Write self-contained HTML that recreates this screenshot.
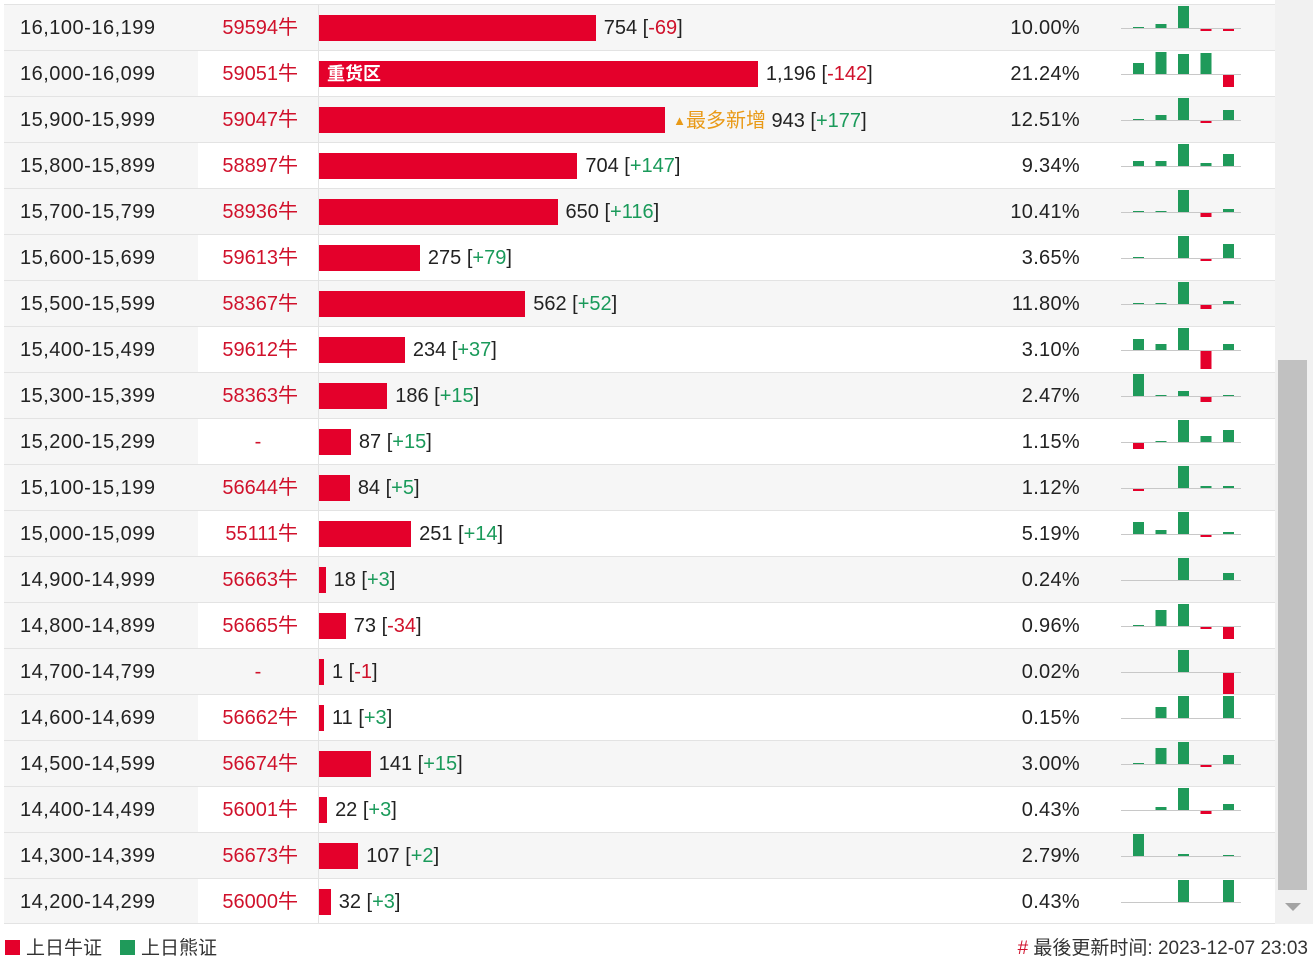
<!DOCTYPE html>
<html><head><meta charset="utf-8">
<style>
body{margin:0;width:1313px;height:963px;overflow:hidden;background:#fff;font-family:"Liberation Sans","Noto Sans CJK SC",sans-serif;position:relative}
.row{position:absolute;left:4px;width:1271px;height:46px;border-top:1px solid #e3e3e3;box-sizing:border-box}
.c{position:absolute;top:1px;height:45px;line-height:45px;font-size:20px;color:#222}
.red{color:#d0112b}.grn{color:#1a9a5a}
#scroll{position:absolute;left:1275px;top:0;width:38px;height:924px;background:#f1f1f1}
</style></head><body>
<div id="table"></div>
<div id="scroll">
<div style="position:absolute;left:3px;top:360px;width:29px;height:530px;background:#c1c1c1"></div>
<div style="position:absolute;left:10px;top:903px;width:0;height:0;border-left:8px solid transparent;border-right:8px solid transparent;border-top:8px solid #a3a3a3"></div>
</div>
<div style="position:absolute;left:4px;top:923px;width:1271px;border-top:1px solid #e3e3e3"></div>
<div style="position:absolute;left:5px;top:937px;font-size:19px;color:#333;line-height:24px"><span style="display:inline-block;width:15px;height:15px;background:#e4002b;vertical-align:-1px;margin-right:6px"></span>上日牛证</div>
<div style="position:absolute;left:120px;top:937px;font-size:19px;color:#333;line-height:24px"><span style="display:inline-block;width:15px;height:15px;background:#1f9a5a;vertical-align:-1px;margin-right:6px"></span>上日熊证</div>
<div style="position:absolute;right:5px;top:937px;font-size:19px;color:#333;line-height:24px"><span style="color:#d0112b">#</span> 最後更新时间: 2023-12-07 23:03</div>
<script>
const ranges=["16,100-16,199","16,000-16,099","15,900-15,999","15,800-15,899","15,700-15,799","15,600-15,699","15,500-15,599","15,400-15,499","15,300-15,399","15,200-15,299","15,100-15,199","15,000-15,099","14,900-14,999","14,800-14,899","14,700-14,799","14,600-14,699","14,500-14,599","14,400-14,499","14,300-14,399","14,200-14,299"];
const codes=["59594牛","59051牛","59047牛","58897牛","58936牛","59613牛","58367牛","59612牛","58363牛","-","56644牛","55111牛","56663牛","56665牛","-","56662牛","56674牛","56001牛","56673牛","56000牛"];
const values=[754,1196,943,704,650,275,562,234,186,87,84,251,18,73,1,11,141,22,107,32];
const changes=[-69,-142,177,147,116,79,52,37,15,15,5,14,3,-34,-1,3,15,3,2,3];
const pcts=["10.00%","21.24%","12.51%","9.34%","10.41%","3.65%","11.80%","3.10%","2.47%","1.15%","1.12%","5.19%","0.24%","0.96%","0.02%","0.15%","3.00%","0.43%","2.79%","0.43%"];
const sparks=[[1,4,22,-2,-2],[11,22,20,21,-12],[1,5,22,-2,10],[5,5,22,3,12],[1,1,22,-4,3],[1,0,22,-2,14],[1,1,22,-4,3],[11,6,22,-18,6],[22,1,5,-5,1],[-6,1,22,6,12],[-2,0,22,2,2],[12,4,22,-2,2],[0,0,22,0,7],[1,16,22,-2,-12],[0,0,22,0,-22],[0,11,22,0,22],[1,16,22,-2,9],[0,3,22,-3,6],[22,0,2,0,1],[0,0,22,0,22]];
const xScale=v=>Math.max(5,v*0.367);
const T=document.getElementById('table');
ranges.forEach((r,i)=>{
 const odd=i%2===0;
 const row=document.createElement('div');
 
 
 row.className='row';row.style.top=(4+i*46)+'px';
 row.style.background=odd?'#f6f6f6':'#fff';
 let h='';
 h+=`<div class="c" style="left:0;width:194px;background:#f6f6f6;padding-left:16px;box-sizing:border-box;letter-spacing:0.5px;top:0;padding-top:1px;height:45px">${r}</div>`;
 h+=`<div class="c red" style="left:194px;width:120px;text-align:${codes[i]=='-'?'center':'right'};padding-right:${codes[i]=='-'?0:20}px;box-sizing:border-box;">${codes[i]}</div>`;
 h+=`<div style="position:absolute;left:314px;top:0;height:45px;border-left:1px solid #e3e3e3"></div>`;
 const w=xScale(values[i]);
 h+=`<div style="position:absolute;left:315px;top:10px;width:${w}px;height:26px;background:#e4002b;color:#fff;font-weight:bold;font-size:18px;line-height:26px;padding-left:${i==1?8:0}px;box-sizing:border-box;white-space:nowrap;overflow:hidden">${i==1?'重货区':''}</div>`;
 const ch=changes[i];
 const cc=ch<0?'red':'grn';
 const tag=i==2?'<span style="color:#e99a17"><span style="font-size:13px;vertical-align:2px">▲</span>最多新增</span> ':'';
 h+=`<div class="c" style="left:${315+w+8}px;white-space:nowrap">${tag}${values[i].toLocaleString('en-US')} [<span class="${cc}">${ch>0?'+':''}${ch}</span>]</div>`;
 h+=`<div class="c" style="left:960px;width:116px;text-align:right;letter-spacing:0.3px">${pcts[i]}</div>`;
 let s=`<svg style="position:absolute;left:1113px;top:0;overflow:visible" width="130" height="46"><line x1="4" y1="23.5" x2="124" y2="23.5" stroke="#c8c8c8" stroke-width="1"/>`;
 sparks[i].forEach((v,j)=>{
  const x=16+j*22.5;
  if(v>0)s+=`<rect x="${x}" y="${23-v}" width="11" height="${v}" fill="#1f9a5a"/>`;
  else if(v<0)s+=`<rect x="${x}" y="24" width="11" height="${-v}" fill="#e4002b"/>`;
 });
 s+='</svg>';
 h+=s;
 row.innerHTML=h;
 T.appendChild(row);
});
</script>
</body></html>
